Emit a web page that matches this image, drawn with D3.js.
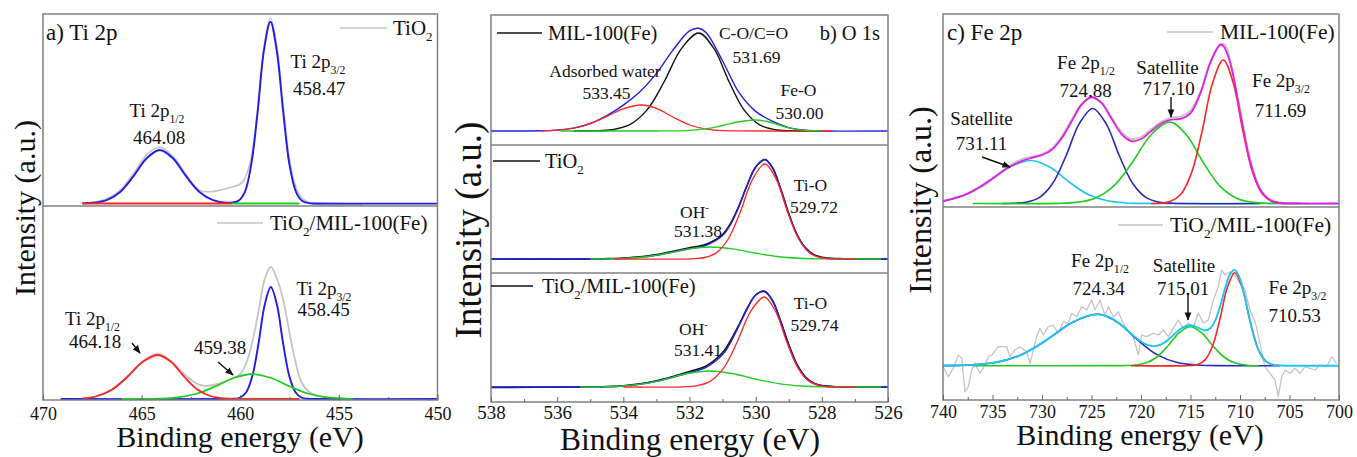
<!DOCTYPE html>
<html>
<head>
<meta charset="utf-8">
<script src="https://cdn.jsdelivr.net/npm/d3@7"></script>
<style>
  body { margin: 0; background: #fff; }
</style>
</head>
<body>
<div id="chart"></div>
<script>
// ---- tick labels ----
const tiTicks = [470, 465, 460, 455, 450];
const oTicks = [538, 536, 534, 532, 530, 528, 526];
const feTicks = [740, 735, 730, 725, 720, 715, 710, 705, 700];

// ---- a) Ti 2p, TiO2 : [binding energy, intensity] ----
const tiRaw = [[467.9,0.3],[467.3,1.8],[466.78,4.5],[466.105,13],[465.43,29.5],[464.755,48.5],[464.08,56.5],[463.405,47],[462.73,28.5],[462.3,17],[462.0,12.5],[461.5,11.8],[461.0,13.5],[460.5,16],[460.0,19.5],[459.77,25],[459.45,45],[459.12,95],[458.8,156],[458.47,185.5],[458.15,158],[457.82,98],[457.5,44],[457.17,16],[456.85,5],[456.5,1],[456.05,-1],[455.5,-1.5],[453.8,-1.5]];
const tiFit = [[468.0,0.2],[467.455,0.7],[466.78,3.3],[466.105,11.2],[465.43,26.8],[464.755,45],[464.08,53.5],[463.405,45],[462.73,26.8],[462.055,11.2],[461.38,3.3],[460.705,0.7],[460.1,2.6],[459.77,11.4],[459.45,38.2],[459.12,90.9],[458.8,152.9],[458.47,181.8],[458.15,152.9],[457.82,90.9],[457.5,38.2],[457.17,11.4],[456.85,2.4],[456.52,0.4],[456.2,0],[450,0]];
const tiRedBase = [[468.0,0],[460.4,0]];
const tiGreenBase = [[460.4,0],[457.0,0]];

// ---- a) Ti 2p, TiO2/MIL-100(Fe) ----
const tiCompRaw = [[468.0,0.6],[467.28,2.8],[466.505,9.8],[465.73,22.5],[464.955,37.5],[464.18,45.3],[463.505,38],[462.83,24.5],[462.155,14.9],[461.8,13.2],[461.48,13.5],[461.0,16],[460.5,19.8],[460.0,25],[459.69,36],[459.38,58],[459.07,88],[458.76,120],[458.45,132],[458.14,120],[457.83,100],[457.52,68],[457.21,38],[456.9,17],[456.5,7],[456.0,3],[455.5,1.4],[455.0,0.5],[454.5,0.2]];
const tiCompRed = [[467.97,0.5],[467.28,2.75],[466.505,9.2],[465.73,22],[464.955,37],[464.18,44],[463.505,37],[462.83,22],[462.155,9.2],[461.48,2.75],[460.805,0.6],[460.13,0.1],[459.5,0],[457.0,0]];
const tiCompGreen = [[466.0,0],[465.08,0.05],[464.13,0.33],[463.18,1.56],[462.23,5.25],[461.28,12.5],[460.33,21],[459.38,25],[458.43,21],[457.48,12.5],[456.53,5.25],[455.58,1.56],[454.63,0.33],[454.3,0.1]];
const tiCompBlue = [[469.1,0],[460.6,0],[460.31,0.2],[460.0,1.5],[459.69,7],[459.38,23.5],[459.07,56],[458.76,94.2],[458.45,112],[458.14,94.2],[457.83,56],[457.52,23.5],[457.21,7],[456.9,1.5],[456.59,0.2],[456.3,0],[450,0]];

// ---- b) O 1s, MIL-100(Fe) ----
const oMilBlue = [[538,0],[536.5,0.2],[536.0,0.9],[535.5,2.9],[535.0,7.5],[534.5,15.4],[534.0,25.9],[533.5,39.2],[533.0,57.6],[532.5,80.9],[532.0,100.1],[531.72,102.7],[531.5,98.4],[531.0,70],[530.5,38.3],[530.0,19.6],[529.5,9.8],[529.0,3.4],[528.5,0.7],[528.0,0.05],[526,0]];
const oMilBlack = [[535.5,0],[534.87,0.2],[534.345,1.3],[533.82,6.1],[533.295,20.6],[532.77,49],[532.245,82.4],[531.72,98],[531.26,82.4],[530.8,49],[530.34,20.6],[529.88,6.1],[529.42,1.3],[528.96,0.2],[528.0,0]];
const oMilRed = [[536.5,0.2],[535.75,1.6],[535.175,5.5],[534.6,13],[534.025,21.9],[533.45,26],[532.95,21.9],[532.45,13],[531.95,5.5],[531.45,1.6],[530.95,0.34],[530.45,0.05],[527.7,0]];
const oMilGreen = [[535.9,0],[533.0,0.02],[532.5,0.15],[532.0,0.7],[531.5,2.3],[531.0,5.5],[530.5,9.25],[530.0,11],[529.625,9.25],[529.25,5.5],[528.875,2.3],[528.5,0.7],[528.125,0.15],[528.0,0]];

// ---- b) O 1s, TiO2 ----
const oTiBlack = [[538,0],[535.0,0],[534.5,0.4],[534.0,1.0],[533.5,2.2],[533.0,4.5],[532.5,7.8],[532.0,11.2],[531.5,14.8],[531.0,24.5],[530.75,36],[530.5,53.5],[530.25,74.5],[530.0,92],[529.72,99.5],[529.5,92],[529.25,71],[529.0,45.5],[528.75,24.5],[528.5,11.5],[528.25,4.6],[528.0,1.8],[527.5,0.4],[527.0,0],[526,0]];
const oTiBlue = [[538,0],[535.0,0],[534.5,0.2],[534.0,0.6],[533.5,1.6],[533.0,3.7],[532.5,6.9],[532.0,10.2],[531.5,13.7],[531.0,23.4],[530.75,35.1],[530.5,53],[530.25,74],[530.0,91.8],[529.72,99.2],[529.5,91.5],[529.25,70.3],[529.0,45],[528.75,24],[528.5,10.8],[528.25,4],[528.0,1.3],[527.5,0.1],[527.0,0],[526,0]];
const oTiRed = [[534.3,0],[531.94,0.2],[531.57,1.25],[531.2,5.9],[530.83,20],[530.46,47.5],[530.09,79.9],[529.72,95],[529.38,79.9],[529.04,47.5],[528.7,20],[528.36,5.9],[528.02,1.25],[527.68,0.2],[527.0,0]];
const oTiGreen = [[535.0,0],[534.505,0.16],[533.88,0.75],[533.255,2.5],[532.63,6],[532.005,10.1],[531.38,12],[530.705,10.1],[530.03,6],[529.355,2.5],[528.68,0.75],[528.005,0.16],[527.33,0.02],[526.2,0]];

// ---- b) O 1s, TiO2/MIL-100(Fe) ----
const oCompBlack = [[538,-0.5],[535.5,0],[535.0,0.2],[534.5,0.5],[534.0,1.3],[533.5,3.2],[533.0,6.3],[532.5,10.6],[532.0,15.5],[531.5,21],[531.0,34.5],[530.75,47],[530.5,62.5],[530.25,79],[530.0,92],[529.74,95.5],[529.5,87],[529.25,66.5],[529.0,42.5],[528.75,22.5],[528.5,10.3],[528.25,4],[528.0,1.4],[527.5,0.2],[527.0,0],[526,0]];
const oCompBlue = [[538,0],[535.5,0],[535.0,0.1],[534.5,0.3],[534.0,1],[533.5,2.7],[533.0,5.7],[532.5,9.8],[532.0,14.4],[531.5,19.7],[531.0,32.4],[530.75,45.2],[530.5,61.5],[530.25,78.7],[530.0,91.9],[529.74,96],[529.5,86.9],[529.25,65.9],[529.0,41.6],[528.75,21.9],[528.5,9.8],[528.25,3.8],[528.0,1.3],[527.5,0.1],[527.0,0],[526,0]];
const oCompRed = [[534.0,0],[532.2,0.2],[531.79,1.2],[531.38,5.6],[530.97,18.9],[530.56,45],[530.15,75.7],[529.74,90],[529.4,75.7],[529.06,45],[528.72,18.9],[528.38,5.6],[528.04,1.2],[527.7,0.2],[527.0,0]];
const oCompGreen = [[535.3,0],[534.66,0.2],[534.01,1],[533.36,3.4],[532.71,8],[532.06,13.5],[531.41,16],[530.71,13.5],[530.01,8],[529.31,3.4],[528.61,1],[527.91,0.2],[527.21,0.03],[526.2,0]];

// ---- c) Fe 2p, MIL-100(Fe) ----
const feMilRaw = [[740,1.5],[739.5,3.5],[739,5.5],[738.5,7],[738,7.5],[737.5,9.5],[737,13],[736.5,15],[736,17],[735,24.5],[734,32.5],[733,39.5],[732,44.5],[731,47],[730,49.5],[729,55],[728,67.5],[727,84],[726,99.5],[725,105.5],[724,101],[723,86.5],[722,72],[721,64.5],[720,66.5],[719,74],[718,81.5],[717,86],[716,87],[715,93],[714,112],[713,142],[712,159.5],[711.5,158.5],[711,143],[710,95],[709,46],[708,16],[707,4.5],[706,1],[705,0.3]];
const feMilFit = [[740,2.5],[739,4.6],[738,7.9],[737,12.4],[736,18.3],[735,25],[734,31.9],[733,38],[732,42.6],[731,45.7],[730,48.5],[729,53.8],[728,65.4],[727,82.2],[726,98.8],[725,106.5],[724,100.6],[723,85.2],[722,69.9],[721,62.4],[720,64.5],[719,72.1],[718,79.8],[717,83.8],[716,84.7],[715,90.4],[714,110.3],[713,140.7],[712,158.6],[711.69,157.6],[711,141],[710,91.5],[709,42.5],[708,14.2],[707,3.4],[706,0.5],[705,0.05],[700,0]];
const feMilCyan = [[740,2.5],[737.71,9],[735.51,21.5],[733.31,36.2],[731.11,43],[729.185,36.2],[727.26,21.5],[725.335,9],[723.41,2.7],[721.485,0.57],[719.56,0.08],[718.5,0],[700,0]];
const feMilBlue = [[734,0],[732.98,0.2],[731.63,1.25],[730.28,5.9],[728.93,20],[727.58,47.5],[726.23,79.9],[724.88,95],[723.53,79.9],[722.18,47.5],[720.83,20],[719.48,5.9],[718.13,1.25],[716.78,0.2],[708,0]];
const feMilGreen = [[737,0],[728.5,0.16],[726.6,1.1],[724.7,5.1],[722.8,17.1],[720.9,40.75],[719.0,68.5],[717.1,81.5],[715.4,68.5],[713.7,40.75],[712.0,17.1],[710.3,5.1],[708.6,1.1],[706.9,0.16],[703,0]];
const feMilRed = [[719,0],[718.14,0.3],[717.065,1.9],[715.99,9],[714.915,30.1],[713.84,71.75],[712.765,120.7],[711.69,143.5],[710.69,120.7],[709.69,71.75],[708.69,30.1],[707.69,9],[706.69,1.9],[705.69,0.3],[704,0]];

// ---- c) Fe 2p, TiO2/MIL-100(Fe) ----
const feCompRaw = [[740.0,-1],[739.46,-11],[738.96,-2.6],[738.45,10.7],[738.11,7.4],[737.78,-26],[737.44,-21],[737.1,-4.3],[736.77,2.4],[736.26,-7.6],[735.76,0.7],[735.42,9],[735.08,10.7],[734.41,19],[733.57,19],[733.23,9],[732.73,15.7],[732.22,19],[731.55,14],[731.21,2.4],[730.88,15.7],[730.54,29],[730.2,37.4],[729.87,30.7],[729.36,39],[728.86,40.7],[728.35,32.4],[727.85,44],[727.34,42.4],[727.0,52.4],[726.5,49],[725.99,59],[725.49,55.7],[724.98,65.7],[724.65,55.7],[724.14,65.7],[723.64,50.7],[723.3,59],[722.8,49],[722.29,54],[721.79,42.4],[721.28,34],[720.78,29],[720.27,10.7],[719.93,30.7],[719.43,29],[718.75,32.4],[718.25,30.7],[717.74,35.7],[717.24,29],[716.73,37.4],[716.23,45.7],[715.72,37.4],[715.22,42.4],[714.71,39],[714.21,52.4],[713.7,42.4],[713.2,45.7],[712.69,65.7],[712.19,79],[711.85,95.7],[711.52,90.7],[711.01,94],[710.51,90.7],[710.0,82.4],[709.5,75.7],[708.99,55.7],[708.48,44],[707.98,22.4],[707.47,-1],[706.97,-7.6],[706.46,-14.3],[706.13,-31],[705.79,-11],[705.45,-4.3],[704.95,-7.6],[704.44,-2.6],[703.94,-7.6],[703.43,-1],[702.93,-2.6],[702.42,-4.3],[701.92,0.7],[701.25,-1],[700.74,9],[700.24,2.4]];
const feCompFit = [[740,0.1],[739,0.2],[738,0.4],[737,0.8],[736,1.6],[735,2.8],[734,4.7],[733,7.5],[732,11.4],[731,16.5],[730,22.6],[729,29.5],[728,36.5],[727,42.9],[726,47.9],[725,50.8],[724.34,51.4],[724,51.1],[723,47.5],[722,40.6],[721,32.1],[720,24.2],[719,19.8],[718,21.1],[717,28.2],[716,36.8],[715,40.4],[714,36.9],[713.5,35.3],[713,37.4],[712.5,45.3],[712,59.7],[711.5,77.4],[711,91.6],[710.53,95.8],[710,86.8],[709.5,67.8],[709,45.5],[708.5,26.2],[708,12.9],[707.5,5.5],[707,2],[706.5,0.6],[706,0.2],[705,0],[700,0]];
const feCompBlue = [[740,0.1],[737.34,0.68],[734.74,3.2],[732.14,10.8],[729.54,25.7],[726.94,43.2],[724.34,51.4],[722.34,43.2],[720.34,25.7],[718.34,10.8],[716.34,3.2],[714.34,0.68],[712.34,0.1],[706,0]];
const feCompGreen = [[737,0],[721.91,0.08],[720.76,0.5],[719.61,2.4],[718.46,8.2],[717.31,19.5],[716.16,32.8],[715.01,39],[713.86,32.8],[712.71,19.5],[711.56,8.2],[710.41,2.4],[709.26,0.5],[708.11,0]];
const feCompRed = [[721,0],[715.03,0.2],[714.28,1.2],[713.53,5.8],[712.78,19.5],[712.03,46.5],[711.28,78.2],[710.53,93],[709.78,78.2],[709.03,46.5],[708.28,19.5],[707.53,5.8],[706.78,1.2],[706.03,0.2],[706,0]];

const col = {
  gray: "#c4c4c4", blue: "#1e1ee6", red: "#ff2424", green: "#1fcc1f",
  black: "#111111", magenta: "#e41ee4", cyan: "#1ec5f2", navy: "#2a2ab8"
};
const serif = "'Liberation Serif', 'Times New Roman', 'DejaVu Serif', serif";

// layout of the three panels (pixel positions)
const panels = [
  {
    x0: 43, x1: 437.5, top: 14, bottom: 400, domain: [470, 450], ticks: tiTicks, minor: 2.5,
    tickFont: 18, tickPad: 7,
    xTitle: { x: 240, y: 447, size: 30 }, yTitle: { x: 25, y: 208, size: 30 },
    subs: [
      { top: 14, bottom: 206, base: 203.5,
        lines: [[tiRaw, "gray", 1.6], [tiFit, "blue", 1.9], [tiRedBase, "red", 1.9], [tiGreenBase, "green", 1.9]] },
      { top: 206, bottom: 400, base: 399,
        lines: [[tiCompRaw, "gray", 1.8], [tiCompBlue, "blue", 1.9], [tiCompGreen, "green", 1.8], [tiCompRed, "red", 1.8]] }
    ]
  },
  {
    x0: 491, x1: 888, top: 15, bottom: 402, domain: [538, 526], ticks: oTicks, minor: 1,
    tickFont: 19, tickPad: 3,
    xTitle: { x: 690, y: 450, size: 31.5 }, yTitle: { x: 469, y: 230, size: 37 },
    subs: [
      { top: 15, bottom: 145, base: 131,
        lines: [[oMilBlue, "blue", 1.4], [oMilBlack, "black", 1.4], [oMilRed, "red", 1.3], [oMilGreen, "green", 1.3]] },
      { top: 145, bottom: 273, base: 259,
        lines: [[oTiBlack, "black", 1.6], [oTiBlue, "blue", 1.4], [oTiGreen, "green", 1.3], [oTiRed, "red", 1.3]] },
      { top: 273, bottom: 402, base: 387,
        lines: [[oCompBlack, "black", 1.6], [oCompBlue, "blue", 1.4], [oCompGreen, "green", 1.3], [oCompRed, "red", 1.3]] }
    ]
  },
  {
    x0: 943, x1: 1339, top: 14, bottom: 400, domain: [740, 700], ticks: feTicks, minor: 2.5,
    tickFont: 18, tickPad: 5,
    xTitle: { x: 1140, y: 445, size: 30 }, yTitle: { x: 921, y: 200, size: 32 },
    subs: [
      { top: 14, bottom: 207, base: 203.5,
        lines: [[feMilRaw, "gray", 1.8], [feMilCyan, "cyan", 1.6], [feMilBlue, "navy", 1.6], [feMilGreen, "green", 1.6], [feMilRed, "red", 1.6], [feMilFit, "magenta", 1.8]] },
      { top: 207, bottom: 400, base: 365.7,
        lines: [[feCompRaw, "gray", 1.3, true], [feCompBlue, "navy", 1.6], [feCompGreen, "green", 1.6], [feCompRed, "red", 1.6], [feCompFit, "cyan", 1.9]] }
    ]
  }
];

// legends, panel labels and peak annotations (pixel positions)
const legends = [
  { x1: 340, x2: 387, y: 28, color: "gray", tx: 393, ty: 35, size: 21, parts: [["TiO"], ["2", "sub"]] },
  { x1: 217, x2: 263, y: 223, color: "gray", tx: 270, ty: 230, size: 21, parts: [["TiO"], ["2", "sub"], ["/MIL-100(Fe)"]] },
  { x1: 497, x2: 542, y: 33, color: "black", tx: 548, ty: 40, size: 20.5, parts: [["MIL-100(Fe)"]] },
  { x1: 493, x2: 540, y: 161, color: "black", tx: 545, ty: 168, size: 20.5, parts: [["TiO"], ["2", "sub"]] },
  { x1: 491, x2: 533, y: 286, color: "black", tx: 542, ty: 293, size: 20.5, parts: [["TiO"], ["2", "sub"], ["/MIL-100(Fe)"]] },
  { x1: 1167, x2: 1213, y: 32, color: "gray", tx: 1220, ty: 39, size: 21.5, parts: [["MIL-100(Fe)"]] },
  { x1: 1118, x2: 1163, y: 225, color: "gray", tx: 1170, ty: 232, size: 21.5, parts: [["TiO"], ["2", "sub"], ["/MIL-100(Fe)"]] }
];

const notes = [
  { x: 46, y: 40, size: 23, anchor: "start", parts: [["a) Ti 2p"]] },
  { x: 880, y: 40, size: 20.5, anchor: "end", parts: [["b) O 1s"]] },
  { x: 947, y: 40, size: 23, anchor: "start", parts: [["c) Fe 2p"]] },

  { x: 318, y: 68, size: 19, parts: [["Ti 2p"], ["3/2", "sub"]] },
  { x: 319, y: 95, size: 19, parts: [["458.47"]] },
  { x: 157, y: 117, size: 19, parts: [["Ti 2p"], ["1/2", "sub"]] },
  { x: 159, y: 144, size: 19, parts: [["464.08"]] },
  { x: 324, y: 295, size: 19, parts: [["Ti 2p"], ["3/2", "sub"]] },
  { x: 323.5, y: 316, size: 19, parts: [["458.45"]] },
  { x: 92.5, y: 325, size: 19, parts: [["Ti 2p"], ["1/2", "sub"]] },
  { x: 95, y: 348, size: 19, parts: [["464.18"]] },
  { x: 220, y: 354, size: 19, parts: [["459.38"]] },

  { x: 753.5, y: 39, size: 17.5, parts: [["C-O/C=O"]] },
  { x: 756.5, y: 63, size: 17.5, parts: [["531.69"]] },
  { x: 605, y: 77, size: 17.5, parts: [["Adsorbed water"]] },
  { x: 606.5, y: 99, size: 17.5, parts: [["533.45"]] },
  { x: 798.5, y: 96, size: 17.5, parts: [["Fe-O"]] },
  { x: 799.5, y: 119, size: 17.5, parts: [["530.00"]] },
  { x: 810.5, y: 191, size: 17.5, parts: [["Ti-O"]] },
  { x: 814, y: 213, size: 17.5, parts: [["529.72"]] },
  { x: 694.5, y: 218, size: 17.5, parts: [["OH"], ["-", "sup"]] },
  { x: 698, y: 237, size: 17.5, parts: [["531.38"]] },
  { x: 810.5, y: 309, size: 17.5, parts: [["Ti-O"]] },
  { x: 814.5, y: 331, size: 17.5, parts: [["529.74"]] },
  { x: 693.5, y: 335, size: 17.5, parts: [["OH"], ["-", "sup"]] },
  { x: 698, y: 356, size: 17.5, parts: [["531.41"]] },

  { x: 1086, y: 69, size: 19, parts: [["Fe 2p"], ["1/2", "sub"]] },
  { x: 1085.5, y: 97, size: 19, parts: [["724.88"]] },
  { x: 1167.5, y: 74, size: 19, parts: [["Satellite"]] },
  { x: 1168.5, y: 95, size: 19, parts: [["717.10"]] },
  { x: 1281, y: 87, size: 19, parts: [["Fe 2p"], ["3/2", "sub"]] },
  { x: 1280.5, y: 117, size: 19, parts: [["711.69"]] },
  { x: 981.5, y: 125, size: 19, parts: [["Satellite"]] },
  { x: 981.5, y: 150, size: 19, parts: [["731.11"]] },
  { x: 1100, y: 267, size: 19, parts: [["Fe 2p"], ["1/2", "sub"]] },
  { x: 1098.5, y: 295, size: 19, parts: [["724.34"]] },
  { x: 1184, y: 272, size: 19, parts: [["Satellite"]] },
  { x: 1183, y: 295, size: 19, parts: [["715.01"]] },
  { x: 1297.5, y: 294, size: 19, parts: [["Fe 2p"], ["3/2", "sub"]] },
  { x: 1294.5, y: 322, size: 19, parts: [["710.53"]] }
];

const arrows = [
  [132, 343, 140, 353], [218, 362, 233, 375],
  [982, 157, 1010, 167], [1171, 97, 1171, 117], [1188, 293, 1188, 320]
];

const svg = d3.select("#chart").append("svg").attr("width", 1357).attr("height", 457);

const defs = svg.append("defs");
defs.append("marker")
  .attr("id", "arrow")
  .attr("viewBox", "0 0 10 10")
  .attr("refX", 9).attr("refY", 5)
  .attr("markerWidth", 6).attr("markerHeight", 6)
  .attr("orient", "auto")
  .append("path").attr("d", "M0,1 L10,5 L0,9 z").attr("fill", "#111");

function richText(g, x, y, parts, size, anchor) {
  const t = g.append("text").attr("x", x).attr("y", y)
    .attr("font-size", size).attr("text-anchor", anchor || "middle");
  let shift = 0;
  parts.forEach(([txt, kind]) => {
    const target = kind === "sub" ? size * 0.3 : kind === "sup" ? -size * 0.38 : 0;
    t.append("tspan")
      .attr("dy", target - shift)
      .attr("font-size", kind ? size * 0.62 : size)
      .text(txt);
    shift = target;
  });
  return t;
}

panels.forEach((p, i) => {
  const x = d3.scaleLinear().domain(p.domain).range([p.x0, p.x1]);
  const g = svg.append("g");

  defs.append("clipPath").attr("id", "clip" + i)
    .append("rect").attr("x", p.x0).attr("y", p.top)
    .attr("width", p.x1 - p.x0).attr("height", p.bottom - p.top);

  p.subs.forEach(s => {
    const y = d3.scaleLinear()
      .domain([s.base - s.bottom, s.base - s.top])
      .range([s.bottom, s.top]);
    const area = g.append("g").attr("clip-path", `url(#clip${i})`);
    s.lines.forEach(([data, c, w, jagged]) => {
      const line = d3.line()
        .x(d => x(d[0]))
        .y(d => y(d[1]))
        .curve(jagged ? d3.curveLinear : d3.curveCatmullRom.alpha(0.5));
      area.append("path")
        .datum(data)
        .attr("d", line)
        .attr("fill", "none")
        .attr("stroke", col[c])
        .attr("stroke-width", w)
        .attr("stroke-linejoin", "round");
    });
  });

  // frame and dividers
  g.append("rect")
    .attr("x", p.x0).attr("y", p.top)
    .attr("width", p.x1 - p.x0).attr("height", p.bottom - p.top)
    .attr("fill", "none").attr("stroke", "#808080").attr("stroke-width", 1.5);
  p.subs.slice(1).forEach(s => {
    g.append("line")
      .attr("x1", p.x0).attr("x2", p.x1)
      .attr("y1", s.top).attr("y2", s.top)
      .attr("stroke", "#808080").attr("stroke-width", 1.5);
  });

  // x axis
  const minorTicks = d3.range(p.domain[0], p.domain[1], -p.minor)
    .filter(v => !p.ticks.includes(v));
  const minorAxis = g.append("g").attr("transform", `translate(0,${p.bottom})`)
    .call(d3.axisBottom(x).tickValues(minorTicks).tickSize(-3).tickFormat(""));
  minorAxis.select(".domain").remove();
  minorAxis.selectAll("line").attr("stroke", "#666");

  const axis = g.append("g").attr("transform", `translate(0,${p.bottom})`)
    .call(d3.axisBottom(x).tickValues(p.ticks).tickSize(-5).tickPadding(p.tickPad).tickFormat(d3.format("d")));
  axis.select(".domain").remove();
  axis.selectAll("line").attr("stroke", "#666");
  axis.selectAll("text").attr("font-size", p.tickFont).attr("fill", "#111");

  g.append("text")
    .attr("x", p.xTitle.x).attr("y", p.xTitle.y)
    .attr("text-anchor", "middle")
    .attr("font-size", p.xTitle.size)
    .text("Binding energy (eV)");

  g.append("text")
    .attr("transform", `translate(${p.yTitle.x},${p.yTitle.y}) rotate(-90)`)
    .attr("text-anchor", "middle")
    .attr("dy", "0.32em")
    .attr("font-size", p.yTitle.size)
    .text("Intensity (a.u.)");
});

legends.forEach(l => {
  svg.append("line")
    .attr("x1", l.x1).attr("x2", l.x2).attr("y1", l.y).attr("y2", l.y)
    .attr("stroke", col[l.color]).attr("stroke-width", 1.6);
  richText(svg, l.tx, l.ty, l.parts, l.size, "start");
});

notes.forEach(n => richText(svg, n.x, n.y, n.parts, n.size, n.anchor));

arrows.forEach(a => {
  svg.append("line")
    .attr("x1", a[0]).attr("y1", a[1]).attr("x2", a[2]).attr("y2", a[3])
    .attr("stroke", "#111").attr("stroke-width", 1.4)
    .attr("marker-end", "url(#arrow)");
});

// serif font everywhere (inline style beats d3-axis font attribute)
svg.selectAll("g").attr("font-family", null);
svg.selectAll("text").style("font-family", serif).style("fill", "#111");
</script>
</body>
</html>
